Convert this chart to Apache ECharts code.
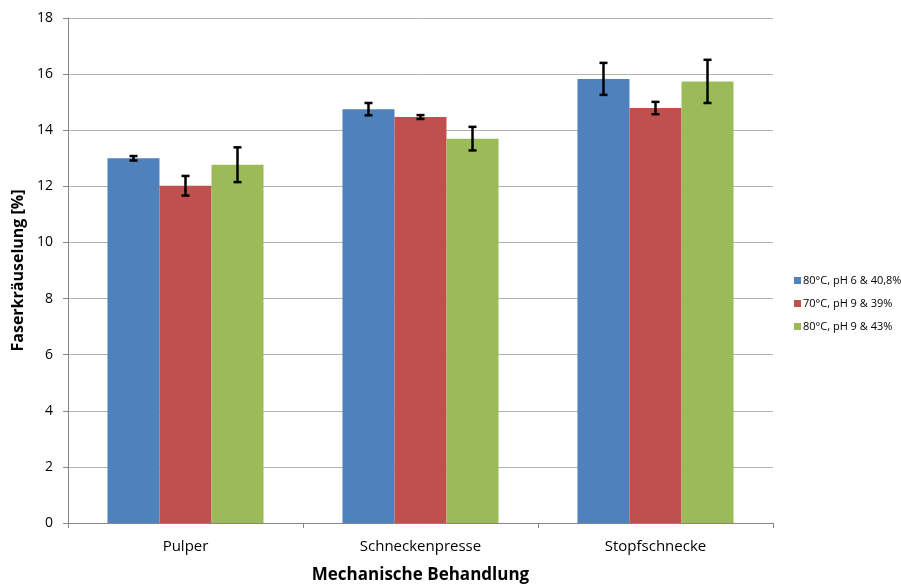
<!DOCTYPE html>
<html>
<head>
<meta charset="utf-8">
<script src="https://cdn.jsdelivr.net/npm/echarts@6/dist/echarts.min.js"></script>
<style>
  html, body { margin: 0; padding: 0; background: #fff; }
  #chart { width: 901px; height: 584px; }
</style>
</head>
<body>
<div id="chart"></div>
<script>
// Categories (mechanical treatment) and series (pretreatment conditions)
const categories = ['Pulper', 'Schneckenpresse', 'Stopfschnecke'];
const seriesNames = ['80°C, pH 6 & 40,8%', '70°C, pH 9 & 39%', '80°C, pH 9 & 43%'];
const colors = ['#4f81bd', '#c0504d', '#9bbb59'];

// Mean fibre curl values [%]
const curlA = [13.00, 14.75, 15.83];
const curlB = [12.02, 14.47, 14.79];
const curlC = [12.77, 13.70, 15.74];

// Standard deviations (error bar half-lengths)
const errA = [0.08, 0.22, 0.57];
const errB = [0.35, 0.07, 0.22];
const errC = [0.62, 0.42, 0.77];

const yTicks = [0, 2, 4, 6, 8, 10, 12, 14, 16, 18];

const means = [curlA, curlB, curlC];
const errs = [errA, errB, errC];

const FONT = 'Open Sans';
const CAT_GAP = 0.336;

const chart = echarts.init(document.getElementById('chart'), null, { renderer: 'canvas' });

const barSeries = seriesNames.map((name, s) => ({
  name: name,
  type: 'bar',
  data: means[s],
  barGap: '0%',
  barCategoryGap: (CAT_GAP * 100) + '%',
  itemStyle: { color: colors[s] },
  z: 2
}));

const errorSeries = seriesNames.map((name, s) => ({
  type: 'custom',
  name: name + ' err',
  silent: true,
  z: 5,
  data: categories.map((c, i) => [i, means[s][i] - errs[s][i], means[s][i] + errs[s][i]]),
  renderItem: function (params, api) {
    const idx = api.value(0);
    const band = api.size([1, 0])[0];
    const barW = band * (1 - CAT_GAP) / 3;
    const center = api.coord([idx, 0])[0] + (s - 1) * barW;
    const lo = api.coord([idx, api.value(1)])[1];
    const hi = api.coord([idx, api.value(2)])[1];
    const cap = 4;
    const style = { stroke: '#000', lineWidth: 2.5 };
    return {
      type: 'group',
      children: [
        { type: 'line', shape: { x1: center, y1: hi, x2: center, y2: lo }, style: style },
        { type: 'line', shape: { x1: center - cap, y1: hi, x2: center + cap, y2: hi }, style: style },
        { type: 'line', shape: { x1: center - cap, y1: lo, x2: center + cap, y2: lo }, style: style }
      ]
    };
  }
}));

chart.setOption({
  animation: false,
  backgroundColor: '#ffffff',
  textStyle: { fontFamily: FONT },
  grid: { left: 68, right: 128, top: 18, bottom: 61, containLabel: false, outerBoundsMode: 'none' },
  legend: {
    orient: 'vertical',
    left: 789,
    top: 270,
    itemWidth: 7,
    itemHeight: 7,
    itemGap: 12,
    icon: 'rect',
    data: seriesNames,
    textStyle: { fontFamily: FONT, fontSize: 11, color: '#000', padding: [0, 0, 0, -3] }
  },
  xAxis: {
    type: 'category',
    data: categories,
    name: 'Mechanische Behandlung',
    nameLocation: 'middle',
    nameGap: 44,
    nameTextStyle: { fontFamily: FONT, fontSize: 17, fontWeight: 'bold', color: '#000' },
    axisLine: { lineStyle: { color: '#868686', width: 1 } },
    axisTick: { show: true, length: 5, lineStyle: { color: '#868686' }, alignWithLabel: false },
    axisLabel: { fontFamily: FONT, fontSize: 15, color: '#000', margin: 16 },
    splitLine: { show: false }
  },
  yAxis: {
    type: 'value',
    min: 0,
    max: 18,
    interval: 2,
    name: 'Faserkräuselung [%]',
    nameLocation: 'middle',
    nameGap: 42,
    nameRotate: 90,
    nameTextStyle: { fontFamily: FONT, fontSize: 16, fontWeight: 'bold', color: '#000' },
    axisLine: { show: true, lineStyle: { color: '#868686', width: 1 } },
    axisTick: { show: true, length: 5, inside: false, lineStyle: { color: '#868686' } },
    axisLabel: {
      fontFamily: FONT, fontSize: 14, color: '#000', margin: 15,
      formatter: v => (yTicks.indexOf(v) >= 0 ? String(v) : '')
    },
    splitLine: { show: true, lineStyle: { color: '#b3b3b3', width: 1 } }
  },
  series: barSeries.concat(errorSeries)
});
</script>
</body>
</html>
